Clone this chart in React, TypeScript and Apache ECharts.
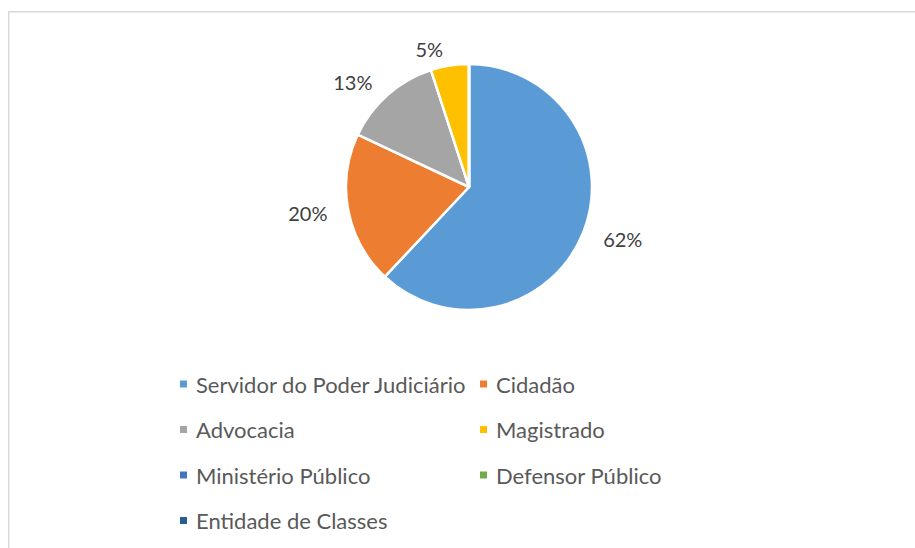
import React, { useEffect, useRef } from "react";
import * as echarts from "echarts";

const categories = [
  "Servidor do Poder Judiciário",
  "Cidadão",
  "Advocacia",
  "Magistrado",
  "Ministério Público",
  "Defensor Público",
  "Entidade de Classes",
];
const values = [62, 20, 13, 5, 0, 0, 0];
const colors = ["#5B9BD5", "#ED7D31", "#A5A5A5", "#FFC000", "#4472C4", "#70AD47", "#255E91"];
const leftLegend = ["Servidor do Poder Judiciário", "Advocacia", "Ministério Público", "Entidade de Classes"];
const rightLegend = ["Cidadão", "Magistrado", "Defensor Público"];

const FONT = "Lato, 'Open Sans', sans-serif";

export default function App() {
  const ref = useRef<HTMLDivElement>(null);
  useEffect(() => {
    if (!ref.current) return;
    const chart = echarts.init(ref.current, undefined, { renderer: "svg" });
    const legendBase = {
      orient: "vertical" as const,
      top: 373,
      padding: 0,
      itemWidth: 7,
      itemHeight: 7,
      itemGap: 23.5,
      icon: "rect",
      selectedMode: false,
      itemStyle: { borderWidth: 0 },
      textStyle: {
        fontFamily: FONT,
        fontSize: 22,
        color: "#595959",
        lineHeight: 22,
        padding: [0, 0, 0, 4],
      },
    };
    chart.setOption({
      animation: false,
      color: colors,
      graphic: [
        {
          type: "rect",
          shape: { x: 8.75, y: 11.75, width: 1200, height: 1200 },
          style: { fill: "none", stroke: "#d9d9d9", lineWidth: 1.5 },
          silent: true,
        },
      ],
      legend: [
        { ...legendBase, left: 180, data: leftLegend },
        { ...legendBase, left: 480, data: rightLegend },
      ],
      series: [
        {
          type: "pie",
          center: [469, 187],
          radius: 123,
          startAngle: 90,
          clockwise: true,
          avoidLabelOverlap: false,
          itemStyle: { borderColor: "#ffffff", borderWidth: 2.5 },
          label: {
            show: true,
            position: "outside",
            formatter: "{d}%",
            fontFamily: FONT,
            fontSize: 20,
            color: "#404040",
            distanceToLabelLine: 4,
          },
          percentPrecision: 0,
          labelLine: { show: false, length: 17, length2: 0 },
          emphasis: { disabled: true },
          data: categories.map((name, i) => ({
            name,
            value: values[i],
            label: values[i] === 0 ? { show: false } : undefined,
          })),
        },
      ],
    });
    return () => chart.dispose();
  }, []);
  return (
    <div
      ref={ref}
      style={{ position: "fixed", left: 0, top: 0, width: 915, height: 548, background: "#fff" }}
    />
  );
}
